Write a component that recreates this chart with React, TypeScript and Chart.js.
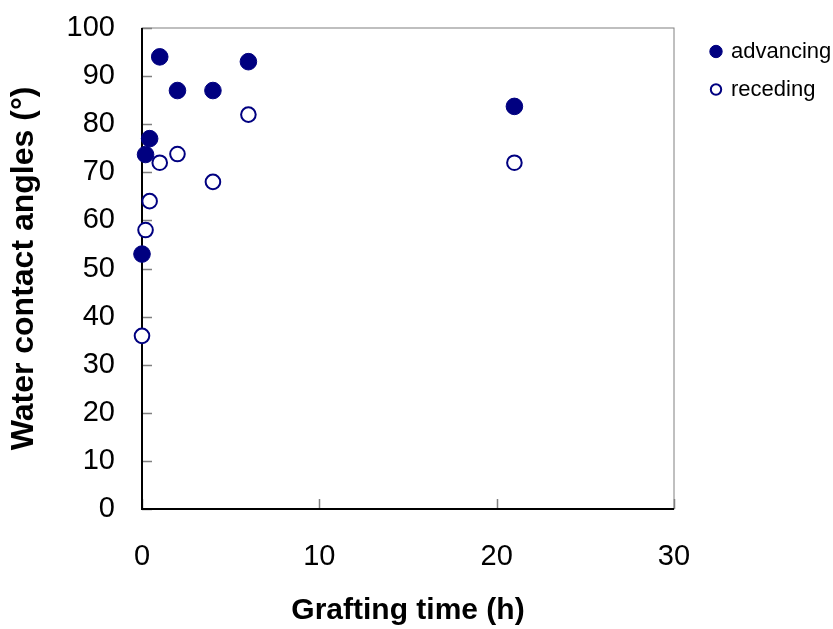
import React, { useEffect, useRef } from "react";
import { Chart, registerables } from "chart.js";

Chart.register(...registerables);

// Grafting time (h) and measured water contact angles (°)
const graftingTime = [0, 0.2, 0.43, 1, 2, 4, 6, 21];
const advancing = [53, 73.7, 77, 94, 87, 87, 93, 83.7];
const receding = [36, 58, 64, 72, 73.8, 68, 82, 72];

const xTicks = [0, 10, 20, 30];
const yTicks = [0, 10, 20, 30, 40, 50, 60, 70, 80, 90, 100];

const NAVY = "#000080";
const FONT = "'Liberation Sans', Arial, sans-serif";

// Frame, inward tick marks and black axis lines around the plot area
const framePlugin = {
  id: "frame",
  beforeDatasetsDraw(chart: any) {
    const { ctx, chartArea: a, scales } = chart;
    ctx.save();
    ctx.lineWidth = 1;
    ctx.strokeStyle = "#808080";
    ctx.strokeRect(a.left, a.top, a.right - a.left, a.bottom - a.top);
    ctx.lineWidth = 1.5;
    ctx.beginPath();
    for (const v of yTicks) {
      const y = Math.round(scales.y.getPixelForValue(v)) + 0.5;
      ctx.moveTo(a.left, y);
      ctx.lineTo(a.left + 10, y);
    }
    for (const v of xTicks) {
      const x = Math.round(scales.x.getPixelForValue(v)) + 0.5;
      ctx.moveTo(x, a.bottom);
      ctx.lineTo(x, a.bottom - 10);
    }
    ctx.stroke();
    ctx.strokeStyle = "#000000";
    ctx.lineWidth = 2;
    ctx.beginPath();
    ctx.moveTo(a.left, a.top);
    ctx.lineTo(a.left, a.bottom);
    ctx.lineTo(a.right, a.bottom);
    ctx.stroke();
    ctx.restore();
  },
};

// Legend drawn at the right of the plot, using each dataset's own marker style
const sideLegendPlugin = {
  id: "sideLegend",
  afterDraw(chart: any) {
    const { ctx } = chart;
    ctx.save();
    ctx.font = `22px ${FONT}`;
    ctx.textBaseline = "middle";
    ctx.textAlign = "left";
    chart.data.datasets.forEach((ds: any, i: number) => {
      const cx = 716;
      const cy = 51.5 + i * 38;
      ctx.beginPath();
      ctx.arc(cx, cy, ds.legendRadius, 0, Math.PI * 2);
      ctx.fillStyle = ds.backgroundColor;
      ctx.fill();
      ctx.lineWidth = ds.borderWidth;
      ctx.strokeStyle = ds.borderColor;
      ctx.stroke();
      ctx.fillStyle = "#000000";
      ctx.fillText(ds.label, 731, cy);
    });
    ctx.restore();
  },
};

export default function App() {
  const canvasRef = useRef<HTMLCanvasElement | null>(null);

  useEffect(() => {
    if (!canvasRef.current) return;
    const chart = new Chart(canvasRef.current, {
      type: "scatter",
      data: {
        datasets: [
          {
            label: "advancing",
            data: graftingTime.map((t, i) => ({ x: t, y: advancing[i] })),
            backgroundColor: NAVY,
            borderColor: NAVY,
            borderWidth: 1,
            pointRadius: 8.3,
            legendRadius: 6.2,
            clip: false,
          } as any,
          {
            label: "receding",
            data: graftingTime.map((t, i) => ({ x: t, y: receding[i] })),
            backgroundColor: "#ffffff",
            borderColor: NAVY,
            borderWidth: 2,
            pointRadius: 7.3,
            legendRadius: 5.2,
            clip: false,
          } as any,
        ],
      },
      options: {
        responsive: false,
        animation: false,
        layout: { padding: { top: 28, right: 159, left: 0, bottom: 0 } },
        plugins: {
          legend: { display: false },
          tooltip: { enabled: false },
        },
        scales: {
          x: {
            type: "linear",
            min: 0,
            max: 30,
            afterBuildTicks: (s: any) => {
              s.ticks = xTicks.map((v) => ({ value: v }));
            },
            afterFit: (s: any) => {
              s.height = 120;
              s.paddingLeft = 0;
              s.paddingRight = 0;
            },
            grid: { display: false, drawTicks: false },
            border: { display: false },
            ticks: {
              padding: 31,
              color: "#000000",
              font: { family: FONT, size: 29 },
            },
            title: {
              display: true,
              text: "Grafting time (h)",
              color: "#000000",
              font: { family: FONT, size: 30, weight: "bold" },
              padding: { top: 0, bottom: 0 },
            },
          },
          y: {
            type: "linear",
            min: 0,
            max: 100,
            afterBuildTicks: (s: any) => {
              s.ticks = yTicks.map((v) => ({ value: v }));
            },
            afterFit: (s: any) => {
              s.width = 142;
              s.paddingTop = 0;
              s.paddingBottom = 0;
            },
            grid: { display: false, drawTicks: false },
            border: { display: false },
            ticks: {
              padding: 27,
              color: "#000000",
              font: { family: FONT, size: 29 },
            },
            title: {
              display: true,
              text: "Water contact angles (°)",
              color: "#000000",
              font: { family: FONT, size: 32, weight: "bold" },
              padding: { top: 5, bottom: 0 },
            },
          },
        },
      },
      plugins: [framePlugin, sideLegendPlugin],
    });
    return () => chart.destroy();
  }, []);

  return (
    <div style={{ position: "absolute", left: 0, top: 0, width: 833, height: 629, background: "#ffffff" }}>
      <canvas ref={canvasRef} width={833} height={629} />
    </div>
  );
}
